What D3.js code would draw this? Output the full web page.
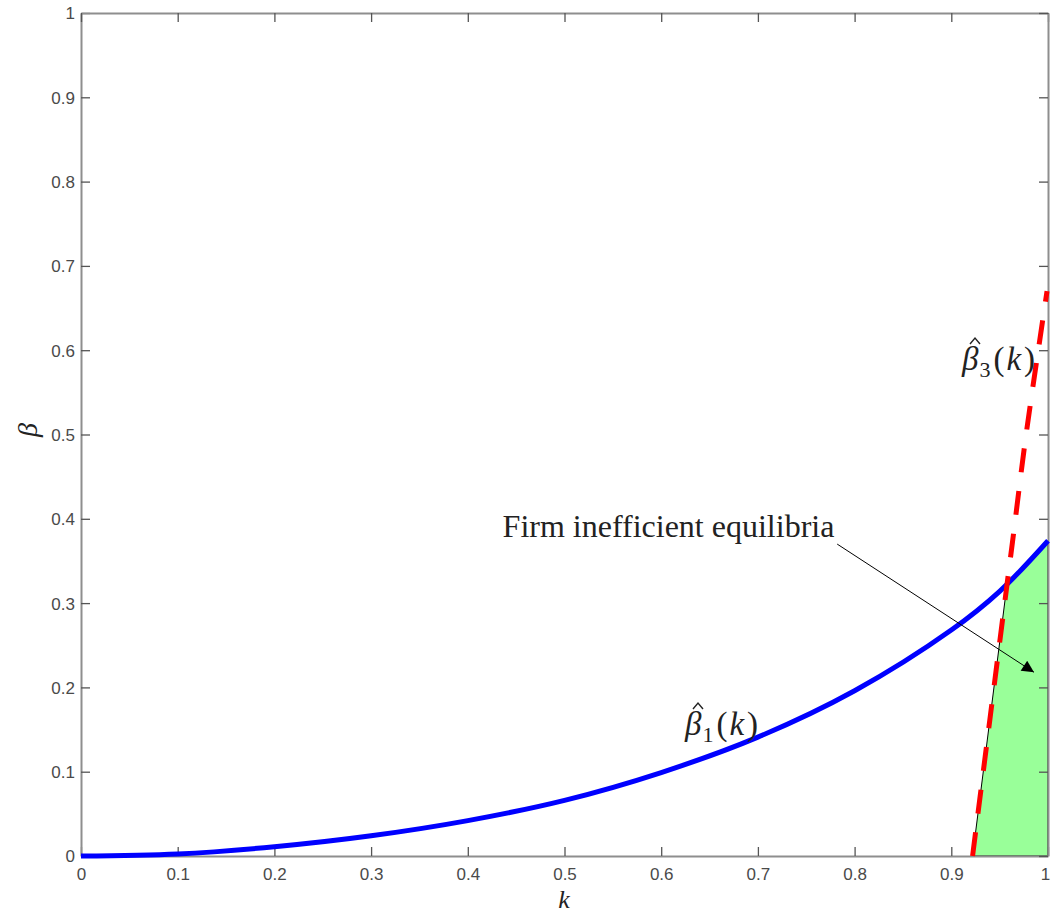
<!DOCTYPE html>
<html>
<head>
<meta charset="utf-8">
<script src="https://cdn.jsdelivr.net/npm/d3@7"></script>
<style>
  body { margin: 0; background: #fff; }
  svg { display: block; }
  .tick text { font-family: "Liberation Sans", Arial, sans-serif; font-size: 17px; fill: #4a4a4a; }
  .math { font-family: "Liberation Serif", "DejaVu Serif", serif; fill: #222; }
</style>
</head>
<body>
<script>
// data
let tickValues = [0, 0.1, 0.2, 0.3, 0.4, 0.5, 0.6, 0.7, 0.8, 0.9, 1];
let tickLabels = ["0", "0.1", "0.2", "0.3", "0.4", "0.5", "0.6", "0.7", "0.8", "0.9", "1"];

// beta_1(k), blue solid
let beta1K = [0, 0.1, 0.2, 0.3, 0.4, 0.5, 0.6, 0.7, 0.8, 0.9, 0.95, 1];
let beta1V = [0, 0.0024, 0.011, 0.024, 0.042, 0.066, 0.099, 0.141, 0.196, 0.268, 0.314, 0.374];

// beta_3(k), red dashed
let beta3K = [0.922, 0.9575, 0.964, 0.977, 0.999];
let beta3V = [0, 0.321, 0.379, 0.497, 0.67];

// shaded region (firm inefficient equilibria)
let regionK = [0.922, 0.9575, 1, 1];
let regionV = [0, 0.321, 0.374, 0];

// annotation
let noteText = "Firm inefficient equilibria";
let noteAt = [0.436, 0.378];
let arrowFrom = [0.782, 0.370];
let arrowTo = [0.9855, 0.218];

let width = 1051, height = 923;
let margin = { top: 13, right: 3, bottom: 67, left: 81 };

let x = d3.scaleLinear().domain([0, 1]).range([margin.left, width - margin.right]);
let y = d3.scaleLinear().domain([0, 1]).range([height - margin.bottom, margin.top]);

let svg = d3.select("body").append("svg")
    .attr("width", width)
    .attr("height", height);

svg.append("defs").append("marker")
    .attr("id", "head")
    .attr("viewBox", "0 -5 10 10")
    .attr("refX", 10)
    .attr("refY", 0)
    .attr("markerUnits", "userSpaceOnUse")
    .attr("markerWidth", 16)
    .attr("markerHeight", 12)
    .attr("orient", "auto")
    .append("path")
    .attr("d", "M0,-5L10,0L0,5Z")
    .attr("fill", "#000");

// shaded region
let region = regionK.map((k, i) => [x(k), y(regionV[i])]);
svg.append("path")
    .attr("d", d3.line()(region) + "Z")
    .attr("fill", "#99ff99")
    .attr("stroke", "#000")
    .attr("stroke-width", 1);

// axes box with inward ticks
let axBottom = svg.append("g")
    .attr("transform", `translate(0,${y(0)})`)
    .call(d3.axisBottom(x).tickValues(tickValues).tickFormat((d, i) => tickLabels[i])
        .tickSizeInner(-9).tickSizeOuter(0).tickPadding(12));
let axLeft = svg.append("g")
    .attr("transform", `translate(${x(0)},0)`)
    .call(d3.axisLeft(y).tickValues(tickValues).tickFormat((d, i) => tickLabels[i])
        .tickSizeInner(-9).tickSizeOuter(0).tickPadding(6));
let axTop = svg.append("g")
    .attr("transform", `translate(0,${y(1)})`)
    .call(d3.axisTop(x).tickValues(tickValues).tickFormat("")
        .tickSizeInner(-9).tickSizeOuter(0));
let axRight = svg.append("g")
    .attr("transform", `translate(${x(1)},0)`)
    .call(d3.axisRight(y).tickValues(tickValues).tickFormat("")
        .tickSizeInner(-9).tickSizeOuter(0));

[axBottom, axLeft, axTop, axRight].forEach(g => {
    g.select(".domain").attr("stroke", "#8e8e8e").attr("stroke-width", 2);
    g.selectAll(".tick line").attr("stroke", "#555").attr("stroke-width", 1.3);
});
axLeft.selectAll(".tick text").attr("dy", "0.35em");
axBottom.selectAll(".tick text").filter(d => d === 1).attr("dx", -3);

// curves
let smooth = d3.line().curve(d3.curveCatmullRom.alpha(0.5));

svg.append("path")
    .attr("d", smooth(beta1K.map((k, i) => [x(k), y(beta1V[i])])))
    .attr("fill", "none")
    .attr("stroke", "#0000ff")
    .attr("stroke-width", 5);

svg.append("path")
    .attr("d", smooth(beta3K.map((k, i) => [x(k), y(beta3V[i])])))
    .attr("fill", "none")
    .attr("stroke", "#ff0000")
    .attr("stroke-width", 5)
    .attr("stroke-dasharray", "24 19");

// annotation arrow + text
svg.append("line")
    .attr("x1", x(arrowFrom[0])).attr("y1", y(arrowFrom[1]))
    .attr("x2", x(arrowTo[0])).attr("y2", y(arrowTo[1]))
    .attr("stroke", "#000")
    .attr("stroke-width", 1)
    .attr("marker-end", "url(#head)");

svg.append("text")
    .attr("class", "math")
    .attr("x", x(noteAt[0]))
    .attr("y", y(noteAt[1]))
    .style("font-size", "32px")
    .text(noteText);

// math labels: hat-beta_n(k)
function hatLabel(px, py, sub) {
    let t = svg.append("text")
        .attr("class", "math")
        .attr("x", px)
        .attr("y", py)
        .style("font-size", "33px");
    t.append("tspan").style("font-style", "italic").text("\u03b2");
    t.append("tspan").attr("dy", 7).attr("dx", 1).style("font-size", "22px").text(sub);
    t.append("tspan").attr("dy", -7).attr("dx", 3).text("(");
    t.append("tspan").attr("dx", 2).style("font-style", "italic").text("k");
    t.append("tspan").attr("dx", 3).text(")");
    // circumflex accent over beta
    svg.append("path")
        .attr("d", `M${px + 8},${py - 26}L${px + 13},${py - 32}L${px + 18},${py - 26}`)
        .attr("fill", "none")
        .attr("stroke", "#222")
        .attr("stroke-width", 1.4);
}
hatLabel(685, 735, "1");
hatLabel(962, 370, "3");

// axis labels
svg.append("text")
    .attr("class", "math")
    .attr("x", 564)
    .attr("y", 908)
    .attr("text-anchor", "middle")
    .style("font-size", "26px")
    .style("font-style", "italic")
    .text("k");

svg.append("text")
    .attr("class", "math")
    .attr("transform", "translate(37,430) rotate(-90)")
    .attr("text-anchor", "middle")
    .style("font-size", "28px")
    .style("font-style", "italic")
    .text("\u03b2");
</script>
</body>
</html>
